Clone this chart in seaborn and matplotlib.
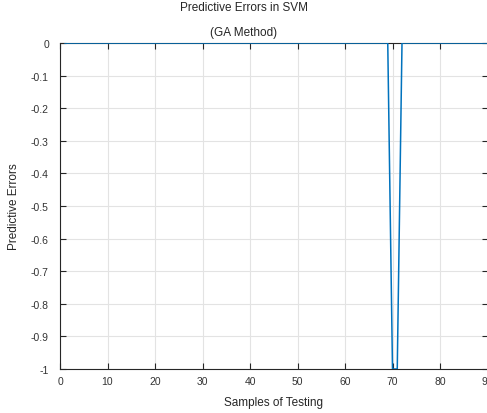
import numpy as np
import pandas as pd
import matplotlib
matplotlib.use("Agg")
import matplotlib.pyplot as plt
import seaborn as sns

# Prediction error for each test sample (0 = correct, -1 = misclassified)
samples = list(range(1, 91))
errors = [0] * 90
errors[69] = -1   # sample 70
errors[70] = -1   # sample 71

x_ticks = [0, 10, 20, 30, 40, 50, 60, 70, 80, 90]
y_ticks = [0, -0.1, -0.2, -0.3, -0.4, -0.5, -0.6, -0.7, -0.8, -0.9, -1]
y_tick_labels = ["0", "-0.1", "-0.2", "-0.3", "-0.4", "-0.5", "-0.6", "-0.7", "-0.8", "-0.9", "-1"]

df = pd.DataFrame({"Samples of Testing": samples, "Predictive Errors": errors})

sns.set_style("white")
plt.rcParams["font.family"] = ["Liberation Sans", "DejaVu Sans"]

fig = plt.figure(figsize=(4.87, 4.14), dpi=100)
ax = fig.add_axes([60 / 487, 1 - 370 / 414, 427.5 / 487, (370 - 44) / 414])

sns.lineplot(data=df, x="Samples of Testing", y="Predictive Errors", ax=ax,
             color="#0072BD", linewidth=1.1, zorder=3)

ax.set_xlim(0, 90)
ax.set_ylim(-1, 0)
ax.set_xticks(x_ticks)
ax.set_yticks(y_ticks)
ax.set_yticklabels(y_tick_labels)
ax.grid(True, color="#e3e3e3", linewidth=0.8)
ax.tick_params(direction="in", length=4, width=0.8, color="#262626",
               labelsize=7.5, labelcolor="#333333", top=True, right=True,
               bottom=True, left=True)
ax.tick_params(axis="y", pad=8)
ax.tick_params(axis="x", pad=5)
for s in ax.spines.values():
    s.set_color("#262626")
    s.set_linewidth(0.8)
    s.set_visible(True)

ax.set_xlabel("Samples of Testing", fontsize=8.5, color="#262626")
ax.set_ylabel("Predictive Errors", fontsize=8.5, color="#262626")
ax.xaxis.set_label_coords(0.5, -33 / 326)
ax.xaxis.label.set_va("center")
ax.yaxis.set_label_coords(-46 / 427.5, 0.5)
ax.yaxis.label.set_va("center")

fig.text(0.5, 1 - 8 / 414, "Predictive Errors in SVM", ha="center", va="center",
         fontsize=8.5, color="#262626")
fig.text(0.5, 1 - 33 / 414, "(GA Method)", ha="center", va="center",
         fontsize=8.5, color="#262626")

fig.savefig("out.png", dpi=100)
